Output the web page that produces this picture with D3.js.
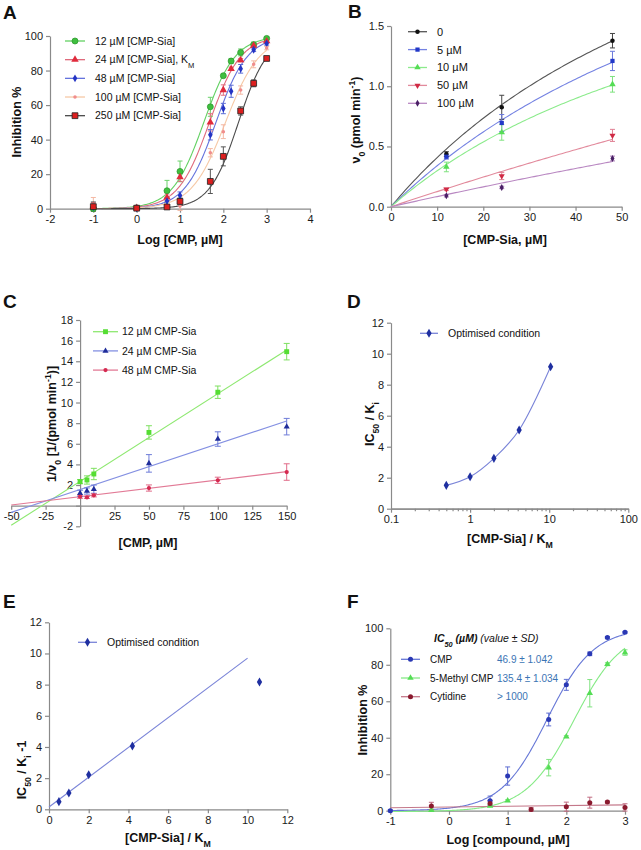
<!DOCTYPE html>
<html><head><meta charset="utf-8">
<script src="https://cdn.jsdelivr.net/npm/d3@7"></script>
<style>body{margin:0;background:#fff} svg{display:block;font-family:"Liberation Sans",Arial,sans-serif}</style>
</head><body><svg id="c" width="641" height="850"></svg>
<script>
// ---------------- DATA ----------------
// Panel A
const aLogX = [-1, 0, 0.7, 1, 1.7, 2, 2.18, 2.4, 2.7, 3];
const aNames = ["12 µM [CMP-Sia]", "24 µM [CMP-Sia], K", "48 µM [CMP-Sia]", "100 µM [CMP-Sia]", "250 µM [CMP-Sia]"];
const aY12 = [0, 0.5, 10.4, 21.6, 59, 77, 85.5, 90.5, 95, 98.6];
const aY24 = [1.5, 0.5, 6.5, 18.3, 50, 68.7, 81, 86, 94.5, 97];
const aY48 = [1, 0.3, 4.4, 7.7, 42.8, 58, 68, 81, 92, 95.7];
const aY100 = [2.5, 0.3, 1, 1.5, 32.4, 44.6, null, 68.7, 83.6, 93];
const aY250 = [1.2, 0.3, 1, 4.2, 15.8, 30.3, null, 56.6, 72.6, 87];
const aSd12 = [1, 0.5, 6, 6, 5.5, 1, 1.5, 2, 1.5, 1];
const aSd24 = [2, 0.5, 2, 2.5, 5, 3, 1, 1, 1, 1];
const aSd48 = [1.5, 0.5, 2, 2, 3, 3, 3.5, 2.5, 1, 1];
const aSd100 = [4, 0.5, 1, 2.5, 2.4, 4, null, 2.4, 2, 1];
const aSd250 = [2.7, 0.5, 1, 2, 7, 5.5, null, 2.4, 2, 1];
const aLogIC50 = [1.55, 1.68, 1.83, 2.05, 2.35];
const aHill = [1.2, 1.2, 1.2, 1.1, 1.3];
const aXTicks = [-2, -1, 0, 1, 2, 3, 4];
const aYTicks = [0, 20, 40, 60, 80, 100];

// Panel B
const bX = [12, 24, 48];
const bNames = ["0", "5 µM", "10 µM", "50 µM", "100 µM"];
const bY0 = [0.437, 0.825, 1.378];
const bY5 = [0.415, 0.695, 1.21];
const bY10 = [0.33, 0.617, 1.016];
const bY50 = [0.144, 0.255, 0.592];
const bY100 = [0.091, 0.16, 0.4];
const bSd0 = [0.02, 0.1, 0.06];
const bSd5 = [0.02, 0.07, 0.08];
const bSd10 = [0.04, 0.065, 0.065];
const bSd50 = [0.01, 0.03, 0.05];
const bSd100 = [0.01, 0.01, 0.02];
const bVmax = [3.67, 3.6, 2.73, 6.39, 4.28];
const bKm = [80, 96, 81.6, 500, 500];
const bXTicks = [0, 10, 20, 30, 40, 50];
const bYTicks = [0, 0.5, 1.0, 1.5];

// Panel C
const cX = [0, 5, 10, 50, 100, 150];
const cNames = ["12 µM CMP-Sia", "24 µM CMP-Sia", "48 µM CMP-Sia"];
const cY12 = [2.33, 2.49, 3.07, 7.1, 11.0, 14.93];
const cY24 = [1.2, 1.42, 1.6, 4.1, 6.46, 7.66];
const cY48 = [0.87, 0.8, 1.0, 1.71, 2.46, 3.26];
const cSd12 = [0.2, 0.4, 0.55, 0.65, 0.6, 0.8];
const cSd24 = [0.3, 0.3, 0.4, 0.85, 0.7, 0.8];
const cSd48 = [0.15, 0.1, 0.15, 0.3, 0.3, 0.8];
const cSlope = [0.085, 0.0443, 0.0162];
const cIntercept = [2.35, 1.565, 0.87];
const cLineX = [-50, 150];
const cXTicks = [-50, -25, 0, 25, 50, 75, 100, 125, 150];
const cYTicks = [-2, 0, 2, 4, 6, 8, 10, 12, 14, 16, 18];

// Panel D
const dX = [0.5, 1, 2, 4.17, 10.42];
const dY = [1.505, 2.06, 3.25, 5.08, 9.16];
const dXTicks = [0.1, 1, 10, 100];
const dYTicks = [0, 2, 4, 6, 8, 10, 12];

// Panel E
const eX = [0.5, 1, 2, 4.2, 10.6];
const eY = [0.49, 1.05, 2.22, 4.06, 8.17];
const eSlope = 0.955, eIntercept = 0.15;
const eLineX = [0, 10];
const eXTicks = [0, 2, 4, 6, 8, 10, 12];
const eYTicks = [0, 2, 4, 6, 8, 10, 12];

// Panel F
const fLogX = [-1, -0.3, 0.7, 1, 1.4, 1.7, 2, 2.4, 2.7, 3];
const fNames = ["CMP", "5-Methyl CMP", "Cytidine"];
const fValues = ["46.9 ± 1.042", "135.4 ± 1.034", "> 1000"];
const fYCMP = [0, null, 5.5, 19, null, 50, 69, 86, 95, 97.8];
const fYMe = [null, 0.3, 2.7, 5.5, null, 23.6, 40.6, 64.4, 80.3, 86.7];
const fYCyt = [null, 2.6, 4, null, 0.7, null, 2.2, 4.4, 4.75, 1.8];
const fSdCMP = [0.5, null, 2.5, 5, null, 3.5, 3, 1, 0.5, 0.5];
const fSdMe = [null, 0.5, 0.5, 0.5, null, 4.5, 0.5, 7.5, 0.8, 1.5];
const fSdCyt = [null, 2, 1.5, null, 1, null, 2.5, 3, 0.5, 2];
const fIC50 = [46.9, 135.4];
const fHill = [1.1, 1.05];
const fBottom = [0, -0.5];
const fCytSlope = 0.4, fCytIntercept = 2.0;
const fXTicks = [-1, 0, 1, 2, 3];
const fYTicks = [0, 20, 40, 60, 80, 100];

// ---------------- DRAWING ----------------
const svg = d3.select("#c");
const AX = "#8a8a8a";
const FONT = "11px";
const LFONT = "10.5px";

function styleAxis(g) {
  g.selectAll("path,line").attr("stroke", AX).attr("stroke-width", 1.2);
  g.selectAll("text").attr("fill", "#1a1a1a").style("font-size", FONT).style("font-family", '"Liberation Sans",Arial,sans-serif');
}
function fmt(d) { return String(d); }
function letter(t, x, y) {
  svg.append("text").attr("x", x).attr("y", y).text(t)
    .style("font-size", "19px").style("font-weight", "bold").attr("fill", "#111");
}
function xTitle(parts, cx, y) {
  const t = svg.append("text").attr("x", cx).attr("y", y).attr("text-anchor", "middle")
    .style("font-size", "12.5px").style("font-weight", "bold").attr("fill", "#111");
  addParts(t, parts);
}
function yTitle(parts, x, cy) {
  const t = svg.append("text").attr("transform", `translate(${x},${cy}) rotate(-90)`).attr("text-anchor", "middle")
    .style("font-size", "12.5px").style("font-weight", "bold").attr("fill", "#111");
  addParts(t, parts);
}
function addParts(t, parts) {
  parts.forEach(p => {
    if (typeof p === "string") { t.append("tspan").text(p); }
    else {
      const sp = t.append("tspan").text(p.t);
      if (p.sub) sp.attr("baseline-shift", "sub").style("font-size", "0.7em");
      if (p.sup) sp.attr("baseline-shift", "super").style("font-size", "0.7em");
      if (p.style) sp.style("font-style", p.style);
      if (p.weight) sp.style("font-weight", p.weight);
    }
  });
}
function marker(g, type, size, fill, stroke, x, y, rot) {
  g.append("path").attr("d", d3.symbol().type(type).size(size)())
    .attr("transform", `translate(${x},${y})` + (rot ? ` rotate(${rot})` : ""))
    .attr("fill", fill).attr("stroke", stroke || "none").attr("stroke-width", stroke ? 0.8 : 0);
}
function errBars(g, xs, ys, sds, sx, sy, color, cap) {
  xs.forEach((xv, i) => {
    if (ys[i] == null || sds[i] == null) return;
    const px = sx(xv), y1 = sy(ys[i] - sds[i]), y2 = sy(ys[i] + sds[i]);
    g.append("line").attr("x1", px).attr("x2", px).attr("y1", y1).attr("y2", y2).attr("stroke", color).attr("stroke-width", 1);
    [y1, y2].forEach(yy => g.append("line").attr("x1", px - cap).attr("x2", px + cap).attr("y1", yy).attr("y2", yy).attr("stroke", color).attr("stroke-width", 1));
  });
}
function points(g, xs, ys, sx, sy, m) {
  xs.forEach((xv, i) => { if (ys[i] != null) marker(g, m.type, m.size, m.fill, m.stroke, sx(xv), sy(ys[i]), m.rot); });
}
function legendRow(g, x1, x2, y, lineColor, m, tx, fs) {
  g.append("line").attr("x1", x1).attr("x2", x2).attr("y1", y).attr("y2", y).attr("stroke", lineColor).attr("stroke-width", 1.3);
  marker(g, m.type, m.size, m.fill, m.stroke, (x1 + x2) / 2, y, m.rot);
  return g.append("text").attr("x", tx).attr("y", y).attr("dy", "0.36em").style("font-size", fs || LFONT).attr("fill", "#111");
}
function hill(x, logIC50, h, bottom, top) { return bottom + (top - bottom) / (1 + Math.pow(10, (logIC50 - x) * h)); }

// ===== Panel A =====
(function () {
  const x = d3.scaleLinear().domain([-2, 4]).range([50, 310]);
  const y = d3.scaleLinear().domain([0, 100]).range([208.7, 36]);
  const g = svg.append("g");
  styleAxis(g.append("g").attr("transform", `translate(0,${y(0)})`).call(d3.axisBottom(x).tickValues(aXTicks).tickFormat(fmt).tickSize(4).tickSizeOuter(0).tickPadding(3)));
  styleAxis(g.append("g").attr("transform", `translate(${x(-2)},0)`).call(d3.axisLeft(y).tickValues(aYTicks).tickFormat(fmt).tickSize(4).tickSizeOuter(0).tickPadding(3)));
  const ys = [aY12, aY24, aY48, aY100, aY250];
  const sds = [aSd12, aSd24, aSd48, aSd100, aSd250];
  const lineCol = ["#62d162", "#df6a7c", "#6473dd", "#f6c9a6", "#4a4a4a"];
  const errCol = ["#6bd26b", "#e2707f", "#5b6bd6", "#f4b9a4", "#555555"];
  const mk = [
    { type: d3.symbolCircle, size: 28, fill: "#3fbf3f", stroke: "#2f9a2f" },
    { type: d3.symbolTriangle, size: 24, fill: "#e02b3c" },
    { type: d3.symbolDiamond, size: 18, fill: "#2434c4" },
    { type: d3.symbolCircle, size: 10, fill: "#f08d8d" },
    { type: d3.symbolSquare, size: 34, fill: "#dd1f1f", stroke: "#222" }
  ];
  const line = d3.line().x(d => x(d[0])).y(d => y(d[1]));
  ys.forEach((yy, k) => {
    const pts = d3.range(-1, 3.0001, 0.02).map(v => [v, hill(v, aLogIC50[k], aHill[k], 0, 100)]);
    g.append("path").attr("d", line(pts)).attr("fill", "none").attr("stroke", lineCol[k]).attr("stroke-width", 1.1);
  });
  ys.forEach((yy, k) => { errBars(g, aLogX, yy, sds[k], x, y, errCol[k], 2.5); });
  ys.forEach((yy, k) => { points(g, aLogX, yy, x, y, mk[k]); });
  const lg = svg.append("g");
  aNames.forEach((n, k) => {
    const t = legendRow(lg, 65, 85, 41 + k * 18.67, lineCol[k], mk[k], 95);
    t.append("tspan").text(n);
    if (k === 1) t.append("tspan").text("M").attr("baseline-shift", "sub").style("font-size", "0.72em");
  });
  letter("A", 3, 19);
  xTitle(["Log [CMP, µM]"], 180, 244);
  yTitle(["Inhibition %"], 21, 122);
})();

// ===== Panel B =====
(function () {
  const x = d3.scaleLinear().domain([0, 50]).range([391, 621.7]);
  const y = d3.scaleLinear().domain([0, 1.5]).range([206.7, 26]);
  const g = svg.append("g");
  styleAxis(g.append("g").attr("transform", `translate(0,${y(0)})`).call(d3.axisBottom(x).tickValues(bXTicks).tickFormat(fmt).tickSize(4).tickSizeOuter(0).tickPadding(3)));
  styleAxis(g.append("g").attr("transform", `translate(${x(0)},0)`).call(d3.axisLeft(y).tickValues(bYTicks).tickFormat(d3.format(".1f")).tickSize(4).tickSizeOuter(0).tickPadding(3)));
  const ys = [bY0, bY5, bY10, bY50, bY100];
  const sds = [bSd0, bSd5, bSd10, bSd50, bSd100];
  const lineCol = ["#555555", "#7482e2", "#8ceb8c", "#e28a9c", "#b988c2"];
  const errCol = ["#444444", "#6a78dc", "#7fe27f", "#e07f93", "#a878b4"];
  const mk = [
    { type: d3.symbolCircle, size: 16, fill: "#111" },
    { type: d3.symbolSquare, size: 18, fill: "#2238c8" },
    { type: d3.symbolTriangle, size: 18, fill: "#55dd55" },
    { type: d3.symbolTriangle, size: 16, fill: "#d02a44", rot: 180 },
    { type: d3.symbolDiamond, size: 14, fill: "#4a1f66" }
  ];
  const line = d3.line().x(d => x(d[0])).y(d => y(d[1]));
  ys.forEach((yy, k) => {
    const pts = d3.range(0, 48.001, 0.5).map(v => [v, bVmax[k] * v / (bKm[k] + v)]);
    g.append("path").attr("d", line(pts)).attr("fill", "none").attr("stroke", lineCol[k]).attr("stroke-width", 1.1);
  });
  ys.forEach((yy, k) => { errBars(g, bX, yy, sds[k], x, y, errCol[k], 2.5); });
  ys.forEach((yy, k) => { points(g, bX, yy, x, y, mk[k]); });
  const lg = svg.append("g");
  bNames.forEach((n, k) => {
    legendRow(lg, 408, 427, 31.7 + k * 17.9, lineCol[k], mk[k], 437, "11px").text(n);
  });
  letter("B", 348, 18);
  xTitle(["[CMP-Sia, µM]"], 505, 244);
  yTitle(["ν", { t: "0", sub: true }, " (pmol min", { t: "-1", sup: true }, ")"], 360, 120);
})();

// ===== Panel C =====
(function () {
  const x = d3.scaleLinear().domain([-50, 150]).range([11.2, 286.7]);
  const y = d3.scaleLinear().domain([-2, 18]).range([526.3, 320]);
  const g = svg.append("g");
  const hide0 = d => (d === 0 ? "" : String(d));
  styleAxis(g.append("g").attr("transform", `translate(0,${y(0)})`).call(d3.axisBottom(x).tickValues(cXTicks).tickFormat(hide0).tickSize(4).tickSizeOuter(0).tickPadding(3)));
  styleAxis(g.append("g").attr("transform", `translate(${x(0)},0)`).call(d3.axisLeft(y).tickValues(cYTicks).tickFormat(hide0).tickSize(4).tickSizeOuter(0).tickPadding(3)));
  const ys = [cY12, cY24, cY48];
  const sds = [cSd12, cSd24, cSd48];
  const lineCol = ["#8ee870", "#8490e2", "#e27a96"];
  const errCol = ["#7ee060", "#6e7cd8", "#e06a88"];
  const mk = [
    { type: d3.symbolSquare, size: 24, fill: "#55dd33" },
    { type: d3.symbolTriangle, size: 16, fill: "#1f2c9a" },
    { type: d3.symbolCircle, size: 14, fill: "#d52a50" }
  ];
  const line = d3.line().x(d => x(d[0])).y(d => y(d[1]));
  ys.forEach((yy, k) => {
    const pts = cLineX.map(v => [v, cIntercept[k] + cSlope[k] * v]);
    g.append("path").attr("d", line(pts)).attr("fill", "none").attr("stroke", lineCol[k]).attr("stroke-width", 1.1);
  });
  ys.forEach((yy, k) => { errBars(g, cX, yy, sds[k], x, y, errCol[k], 3); });
  ys.forEach((yy, k) => { points(g, cX, yy, x, y, mk[k]); });
  const lg = svg.append("g");
  cNames.forEach((n, k) => {
    legendRow(lg, 93, 118, 331.7 + k * 19.2, lineCol[k], mk[k], 122).text(n);
  });
  letter("C", 3, 308);
  xTitle(["[CMP, µM]"], 148, 547);
  yTitle(["1/ν", { t: "0", sub: true }, " [1/(pmol min", { t: "-1", sup: true }, ")]"], 56, 424);
})();

// ===== Panel D =====
(function () {
  const x = d3.scaleLog().domain([0.1, 100]).range([391, 628.3]);
  const y = d3.scaleLinear().domain([0, 12]).range([508.7, 322.7]);
  const g = svg.append("g");
  const minor = [];
  [0.1, 1, 10].forEach(b => { for (let i = 2; i <= 9; i++) minor.push(b * i); });
  styleAxis(g.append("g").attr("transform", `translate(0,${y(0)})`).call(d3.axisBottom(x).tickValues(minor).tickFormat("").tickSize(2.5).tickSizeOuter(0)));
  styleAxis(g.append("g").attr("transform", `translate(0,${y(0)})`).call(d3.axisBottom(x).tickValues(dXTicks).tickFormat(fmt).tickSize(4).tickSizeOuter(0).tickPadding(3)));
  styleAxis(g.append("g").attr("transform", `translate(${x(0.1)},0)`).call(d3.axisLeft(y).tickValues(dYTicks).tickFormat(fmt).tickSize(4).tickSizeOuter(0).tickPadding(3)));
  const lineCol = "#7a84d8";
  const mk = { type: d3.symbolDiamond, size: 24, fill: "#1f2fa0" };
  const line = d3.line().x(d => x(d[0])).y(d => y(d[1])).curve(d3.curveMonotoneX);
  g.append("path").attr("d", line(dX.map((v, i) => [v, dY[i]]))).attr("fill", "none").attr("stroke", lineCol).attr("stroke-width", 1.1);
  points(g, dX, dY, x, y, mk);
  legendRow(svg.append("g"), 420, 438, 333.3, lineCol, mk, 448).text("Optimised condition");
  letter("D", 347, 308);
  xTitle(["[CMP-Sia] / K", { t: "M", sub: true }], 510, 543);
  yTitle(["IC", { t: "50", sub: true }, " / K", { t: "i", sub: true }], 374, 424);
})();

// ===== Panel E =====
(function () {
  const x = d3.scaleLinear().domain([0, 12]).range([49, 287.3]);
  const y = d3.scaleLinear().domain([0, 12]).range([809.3, 622.3]);
  const g = svg.append("g");
  styleAxis(g.append("g").attr("transform", `translate(0,${y(0)})`).call(d3.axisBottom(x).tickValues(eXTicks).tickFormat(fmt).tickSize(4).tickSizeOuter(0).tickPadding(3)));
  styleAxis(g.append("g").attr("transform", `translate(${x(0)},0)`).call(d3.axisLeft(y).tickValues(eYTicks).tickFormat(fmt).tickSize(4).tickSizeOuter(0).tickPadding(3)));
  const lineCol = "#7a84d8";
  const mk = { type: d3.symbolDiamond, size: 24, fill: "#1f2fa0" };
  const line = d3.line().x(d => x(d[0])).y(d => y(d[1]));
  g.append("path").attr("d", line(eLineX.map(v => [v, eIntercept + eSlope * v]))).attr("fill", "none").attr("stroke", lineCol).attr("stroke-width", 1.1);
  points(g, eX, eY, x, y, mk);
  legendRow(svg.append("g"), 78, 97, 642.3, lineCol, mk, 107).text("Optimised condition");
  letter("E", 3, 608);
  xTitle(["[CMP-Sia] / K", { t: "M", sub: true }], 168, 842);
  yTitle(["IC", { t: "50", sub: true }, " / K", { t: "i", sub: true }, " -1"], 26, 770);
})();

// ===== Panel F =====
(function () {
  const x = d3.scaleLinear().domain([-1, 3]).range([390.3, 625]);
  const y = d3.scaleLinear().domain([0, 100]).range([810.7, 628.3]);
  const g = svg.append("g");
  styleAxis(g.append("g").attr("transform", `translate(0,${y(0)})`).call(d3.axisBottom(x).tickValues(fXTicks).tickFormat(fmt).tickSize(4).tickSizeOuter(0).tickPadding(3)));
  styleAxis(g.append("g").attr("transform", `translate(${x(-1)},0)`).call(d3.axisLeft(y).tickValues(fYTicks).tickFormat(fmt).tickSize(4).tickSizeOuter(0).tickPadding(3)));
  const ys = [fYCMP, fYMe, fYCyt];
  const sds = [fSdCMP, fSdMe, fSdCyt];
  const lineCol = ["#6677d6", "#86ea86", "#c4788a"];
  const errCol = ["#5e6ed2", "#7fe27f", "#c06a80"];
  const mk = [
    { type: d3.symbolCircle, size: 20, fill: "#2a38b4" },
    { type: d3.symbolTriangle, size: 18, fill: "#55dd55" },
    { type: d3.symbolCircle, size: 20, fill: "#8a1a2e" }
  ];
  const line = d3.line().x(d => x(d[0])).y(d => y(d[1]));
  [0, 1].forEach(k => {
    const pts = d3.range(-1, 3.0001, 0.02).map(v => [v, hill(v, Math.log10(fIC50[k]), fHill[k], fBottom[k], 100)]);
    g.append("path").attr("d", line(pts)).attr("fill", "none").attr("stroke", lineCol[k]).attr("stroke-width", 1.1);
  });
  g.append("path").attr("d", line([-1, 3].map(v => [v, fCytIntercept + fCytSlope * v]))).attr("fill", "none").attr("stroke", lineCol[2]).attr("stroke-width", 1.1);
  ys.forEach((yy, k) => { errBars(g, fLogX, yy, sds[k], x, y, errCol[k], 2.5); });
  ys.forEach((yy, k) => { points(g, fLogX, yy, x, y, mk[k]); });
  const lg = svg.append("g");
  const tt = lg.append("text").attr("x", 434).attr("y", 642).style("font-size", "10.5px").attr("fill", "#111");
  addParts(tt, [{ t: "IC", style: "italic", weight: "bold" }, { t: "50", sub: true, style: "italic", weight: "bold" },
    { t: " (µM)", style: "italic", weight: "bold" }, { t: " (value ± SD)", style: "italic" }]);
  fNames.forEach((n, k) => {
    const yy = 659.3 + k * 18.7;
    legendRow(lg, 401, 420, yy, lineCol[k], mk[k], 430, "10px").text(n);
    lg.append("text").attr("x", 497).attr("y", yy).attr("dy", "0.36em").style("font-size", "10px").attr("fill", "#3b74b4").text(fValues[k]);
  });
  letter("F", 347, 608);
  xTitle(["Log [compound, µM]"], 508, 844);
  yTitle(["Inhibition %"], 367, 720);
})();
</script></body></html>
